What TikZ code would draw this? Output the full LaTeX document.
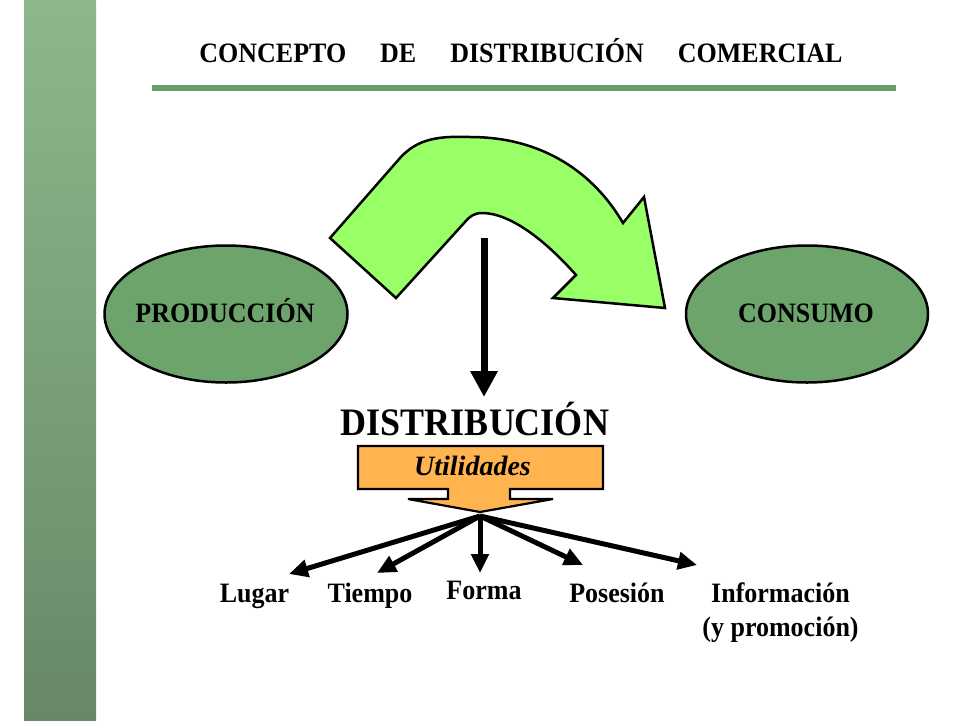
\documentclass[tikz,border=0pt]{standalone}
\usepackage{fontspec}
\setmainfont{Liberation Serif}
\usetikzlibrary{arrows.meta,shapes.geometric}
\definecolor{sidetop}{RGB}{140,184,140}
\definecolor{sidebot}{RGB}{104,136,104}
\definecolor{rulegreen}{RGB}{102,160,102}
\definecolor{ellgreen}{RGB}{108,164,108}
\definecolor{arrowgreen}{RGB}{153,255,102}
\definecolor{callorange}{RGB}{255,180,80}
\newcommand{\tallify}[1]{\scalebox{1}[1.08]{#1}}
\begin{document}
\begin{tikzpicture}[x=1pt,y=-1pt,
  ellbox/.style={ellipse,draw=black,line width=2.5pt,fill=ellgreen,inner sep=0pt},
  lbl/.style={anchor=base,inner sep=0pt,font=\bfseries\fontsize{26}{30}\selectfont},
  fanarrow/.style={line width=5pt,-{Triangle[length=19pt,width=17pt]}},
]
\useasboundingbox (0,0) rectangle (960,720);
\fill[white] (0,0) rectangle (960,720);
\shade[top color=sidetop,bottom color=sidebot] (24,0) rectangle (96,720);

% title
\node[anchor=base,inner sep=0pt,font=\bfseries\fontsize{26}{30}\selectfont] (title) at (521,62)
  {\tallify{CONCEPTO\hspace{34pt}DE\hspace{34pt}DISTRIBUCIÓN\hspace{34pt}COMERCIAL}};
\draw[rulegreen,line width=6pt] (152,88) -- (896,88);

% ellipses
\node[ellbox,minimum width=243pt,minimum height=137pt] (prod) at (226,314) {};
\node[lbl] (prodt) at (225,322.6) {\tallify{PRODUCCIÓN}};
\node[ellbox,minimum width=242pt,minimum height=137pt] (cons) at (807,314) {};
\node[lbl] (const) at (806,322.6) {\tallify{CONSUMO}};

% curved green arrow
\draw[fill=arrowgreen,line width=2.5pt,line join=miter]
  (330,238) -- (400,158)
  .. controls (418,138) and (440,136) .. (470,137)
  .. controls (545,137) and (595,175) .. (623,223)
  -- (644,197) -- (665,308) -- (553,298) -- (576,275)
  .. controls (545,240) and (510,213) .. (482,213)
  .. controls (474,213) and (469,217) .. (465,222)
  -- (396,298) -- cycle;

% vertical arrow
\coordinate (vtop) at (484,238);
\coordinate (vtip) at (484,397);
\draw[line width=7pt,-{Triangle[length=26pt,width=26pt]}] (vtop) -- (vtip);

% DISTRIBUCION
\node[anchor=base,inner sep=0pt,font=\bfseries\fontsize{36}{40}\selectfont] (dist) at (475,435) {\tallify{DISTRIBUCIÓN}};

% callout
\draw[fill=callorange,line width=2.2pt,line join=miter]
  (358,446) -- (603,446) -- (603,489) -- (510,489) -- (510,499) -- (553,499)
  -- (480,512) -- (408,499) -- (448,499) -- (448,489) -- (358,489) -- cycle;
\node[anchor=base,inner sep=0pt,font=\bfseries\itshape\fontsize{28}{32}\selectfont] (util) at (472.5,475) {Utilidades};

% fan
\coordinate (fan) at (480,516);
\coordinate (tLugar) at (289,574);
\coordinate (tTiempo) at (377,573);
\coordinate (tForma) at (480,573);
\coordinate (tPos) at (583,565);
\coordinate (tInfo) at (697,565);
\draw[fanarrow] (fan) -- (tLugar);
\draw[fanarrow] (fan) -- (tTiempo);
\draw[fanarrow] (fan) -- (tForma);
\draw[fanarrow] (fan) -- (tPos);
\draw[fanarrow] (fan) -- (tInfo);

\node[lbl] (lugar) at (254.5,602) {\tallify{Lugar}};
\node[lbl] (tiempo) at (370,602) {\tallify{Tiempo}};
\node[lbl] (forma) at (484,599) {\tallify{Forma}};
\node[lbl] (pos) at (617,602) {\tallify{Posesión}};
\node[lbl] (info) at (780.5,602) {\tallify{Información}};
\node[lbl] (info2) at (780.5,636) {\tallify{(y promoción)}};
\end{tikzpicture}
\end{document}
